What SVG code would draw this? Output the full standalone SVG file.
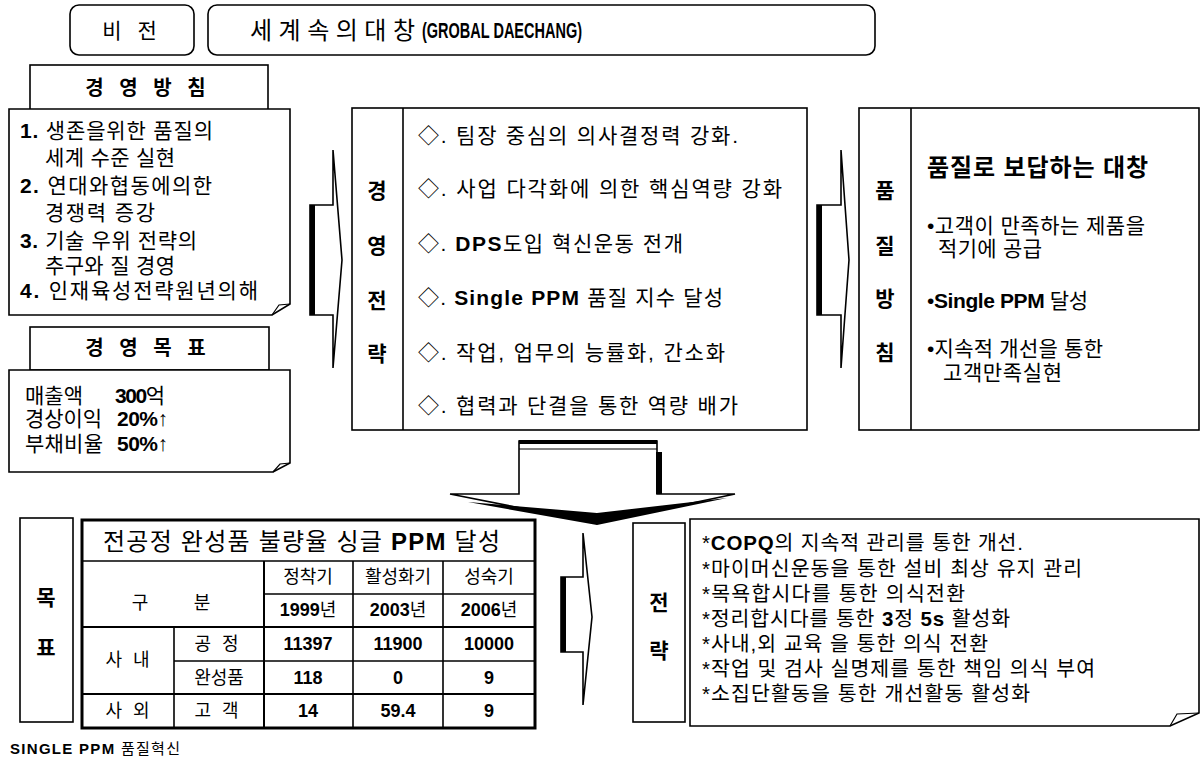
<svg xmlns="http://www.w3.org/2000/svg" width="1200" height="759" viewBox="0 0 1200 759">
<defs>
<style>
text{font-family:'Liberation Sans','Noto Sans CJK KR',sans-serif;fill:#000;dominant-baseline:central}
.box{fill:#fff;stroke:#000;stroke-width:1.6}
.ln{fill:none;stroke:#000;stroke-width:1.6}
.thin{fill:none;stroke:#000;stroke-width:1.2}
.b{font-weight:bold}
.lab{font-size:21px;font-weight:bold;text-anchor:middle}
.t19{font-size:21px}
.t20{font-size:21px}
.cell{font-size:18px;text-anchor:middle}
.bul{font-size:20.5px}
</style>
</defs>

<g id="vision">
<rect class="box" x="70" y="5" width="124" height="50" rx="9"/>
<text x="132" y="30" style="font-size:21px;letter-spacing:5px" text-anchor="middle">비 전</text>
</g>
<g id="title">
<rect class="box" x="208" y="5" width="667" height="50" rx="9"/>
<text x="250" y="30" style="font-size:24px" textLength="165">세 계 속 의 대 창</text>
<text x="422" y="30" class="b" style="font-size:22px" textLength="160" lengthAdjust="spacingAndGlyphs">(GROBAL DAECHANG)</text>
</g>

<g id="policy">
<rect class="box" x="30" y="65" width="238" height="45"/>
<text x="148" y="88" style="font-size:20px;font-weight:bold;letter-spacing:5px" text-anchor="middle">경 영 방 침</text>
<path class="box" d="M9,109 H290 V304 L272,315 H9 Z"/>
<path class="thin" d="M272,315 L279,305 L290,304"/>
<g class="t19">
<text x="20" y="130" textLength="193"><tspan class="b">1.</tspan> 생존을위한 품질의</text>
<text x="45" y="157" textLength="130">세계 수준 실현</text>
<text x="20" y="185" textLength="192"><tspan class="b">2.</tspan>  연대와협동에의한</text>
<text x="45" y="212" textLength="110">경쟁력 증강</text>
<text x="20" y="240" textLength="177"><tspan class="b">3.</tspan> 기술 우위 전략의</text>
<text x="45" y="265" textLength="130">추구와 질 경영</text>
<text x="20" y="290" textLength="238"><tspan class="b">4.</tspan>  인재육성전략원년의해</text>
</g>
</g>

<g id="goal">
<rect class="box" x="30" y="327" width="239" height="43"/>
<text x="148" y="348" style="font-size:20px;font-weight:bold;letter-spacing:5px" text-anchor="middle">경 영 목 표</text>
<path class="box" d="M9,370 H290 V463 L273,472 H9 Z"/>
<path class="thin" d="M273,472 L280,464 L290,463"/>
<g class="t19">
<text x="25" y="395" textLength="58">매출액</text><text x="115" y="395" class="b" textLength="50">300<tspan font-weight="normal">억</tspan></text>
<text x="25" y="418" textLength="77">경상이익</text><text x="117" y="418" class="b" textLength="51">20%↑</text>
<text x="25" y="443" textLength="78">부채비율</text><text x="117" y="443" class="b" textLength="51">50%↑</text>
</g>
</g>

<g id="connectors">
<path class="box" d="M310,205 H333 V150 L342,260 L333,368 V315 H310 Z"/>
<rect x="310" y="205" width="5" height="110" fill="#000"/>
<path class="box" d="M817,205 H841 V150 L849,260 L841,368 V315 H817 Z"/>
<rect x="817" y="205" width="5" height="110" fill="#000"/>
<path class="box" d="M561,577 H583 V533 L592,617 L583,705 V652 H561 Z"/>
<rect x="561" y="577" width="5" height="75" fill="#000"/>
<path class="box" d="M519,441 H657 V494 H735 L597,523 L450,494 H519 Z"/>
<rect x="519" y="440" width="138" height="4" fill="#000"/>
<line x1="519" y1="449" x2="657" y2="449" stroke="#000" stroke-width="1"/>
<rect x="656" y="452" width="6" height="42" fill="#000"/>
<polygon points="468,502 597,513 727,498 597,525" fill="#000"/>
</g>

<g id="mgmt-strategy">
<rect class="box" x="352" y="108" width="455" height="322"/>
<line class="ln" x1="403" y1="108" x2="403" y2="430"/>
<text class="lab" x="377" y="190">경</text>
<text class="lab" x="377" y="245">영</text>
<text class="lab" x="377" y="300">전</text>
<text class="lab" x="377" y="353">략</text>
<g class="t20">
<text x="418" y="135" textLength="320">◇. 팀장 중심의 의사결정력 강화.</text>
<text x="418" y="188" textLength="364">◇. 사업 다각화에 의한 핵심역량 강화</text>
<text x="418" y="243" textLength="265">◇. <tspan class="b">DPS</tspan>도입 혁신운동 전개</text>
<text x="418" y="297" textLength="305">◇. <tspan class="b">Single PPM</tspan> 품질 지수 달성</text>
<text x="418" y="352" textLength="307">◇. 작업, 업무의 능률화, 간소화</text>
<text x="418" y="405" textLength="320">◇. 협력과 단결을 통한 역량 배가</text>
</g>
</g>

<g id="quality-policy">
<rect class="box" x="859" y="108" width="340" height="322"/>
<line class="ln" x1="911" y1="108" x2="911" y2="430"/>
<text class="lab" x="885" y="190">품</text>
<text class="lab" x="885" y="245">질</text>
<text class="lab" x="885" y="298">방</text>
<text class="lab" x="885" y="352">침</text>
<text x="927" y="167" style="font-size:24px;font-weight:bold" textLength="221">품질로 보답하는 대창</text>
<g class="t20">
<text x="927" y="225" textLength="218">•고객이 만족하는 제품을</text>
<text x="938" y="248" textLength="104">적기에 공급</text>
<text x="927" y="300" textLength="161">•<tspan class="b">Single PPM</tspan> 달성</text>
<text x="927" y="348" textLength="176">•지속적 개선을 통한</text>
<text x="943" y="372" textLength="119">고객만족실현</text>
</g>
</g>

<g id="target">
<rect class="box" x="20" y="518" width="53" height="204"/>
<text class="lab" x="46" y="597">목</text>
<text class="lab" x="46" y="647">표</text>
</g>

<g id="table">
<rect x="82" y="520" width="453" height="208" fill="#fff" stroke="#000" stroke-width="3"/>
<line class="ln" x1="82" y1="561" x2="535" y2="561"/>
<line class="ln" x1="264" y1="594" x2="535" y2="594"/>
<line x1="82" y1="627" x2="535" y2="627" stroke="#000" stroke-width="2.2"/>
<line class="ln" x1="174" y1="661" x2="535" y2="661"/>
<line x1="82" y1="694" x2="535" y2="694" stroke="#000" stroke-width="2.2"/>
<line class="ln" x1="174" y1="627" x2="174" y2="728"/>
<line x1="264" y1="561" x2="264" y2="728" stroke="#000" stroke-width="2"/>
<line class="ln" x1="353" y1="561" x2="353" y2="728"/>
<line class="ln" x1="443" y1="561" x2="443" y2="728"/>
<text x="103" y="541" style="font-size:24px" textLength="397">전공정 완성품 불량율 싱글 <tspan class="b">PPM</tspan> 달성</text>
<text class="cell" x="140" y="603">구</text>
<text class="cell" x="202" y="603">분</text>
<text class="cell" x="308" y="577">정착기</text>
<text class="cell" x="398" y="577">활성화기</text>
<text class="cell" x="489" y="577">성숙기</text>
<text class="cell b" x="308" y="610">1999<tspan font-weight="normal">년</tspan></text>
<text class="cell b" x="398" y="610">2003<tspan font-weight="normal">년</tspan></text>
<text class="cell b" x="489" y="610">2006<tspan font-weight="normal">년</tspan></text>
<text class="cell" x="129" y="660" style="letter-spacing:3px">사 내</text>
<text class="cell" x="218" y="644" style="letter-spacing:3px">공 정</text>
<text class="cell" x="219" y="678">완성품</text>
<text class="cell" x="129" y="711" style="letter-spacing:3px">사 외</text>
<text class="cell" x="218" y="711" style="letter-spacing:3px">고 객</text>
<text class="cell b" x="308" y="644">11397</text>
<text class="cell b" x="398" y="644">11900</text>
<text class="cell b" x="489" y="644">10000</text>
<text class="cell b" x="308" y="678">118</text>
<text class="cell b" x="398" y="678">0</text>
<text class="cell b" x="489" y="678">9</text>
<text class="cell b" x="308" y="711">14</text>
<text class="cell b" x="398" y="711">59.4</text>
<text class="cell b" x="489" y="711">9</text>
</g>

<g id="strategy-label">
<rect class="box" x="633" y="523" width="52" height="199"/>
<text class="lab" x="659" y="602">전</text>
<text class="lab" x="659" y="650">략</text>
</g>

<g id="strategy">
<path class="box" d="M690,519 H1199 V713 L1170,726 H690 Z"/>
<path class="thin" d="M1170,726 L1177,714 L1199,713"/>
<g class="bul">
<text x="702" y="542" textLength="321">*<tspan class="b">COPQ</tspan>의 지속적 관리를 통한 개선.</text>
<text x="702" y="568" textLength="380">*마이머신운동을 통한 설비 최상 유지 관리</text>
<text x="702" y="593" textLength="263">*목욕합시다를 통한 의식전환</text>
<text x="702" y="618" textLength="308">*정리합시다를 통한 <tspan class="b">3</tspan>정 <tspan class="b">5s</tspan> 활성화</text>
<text x="702" y="643" textLength="286">*사내,외 교육 을 통한 의식 전환</text>
<text x="702" y="668" textLength="393">*작업 및 검사 실명제를 통한 책임 의식 부여</text>
<text x="702" y="693" textLength="328">*소집단활동을 통한 개선활동 활성화</text>
</g>
</g>

<text x="10" y="748" style="font-size:15px;font-weight:bold" textLength="170">SINGLE PPM <tspan font-weight="normal">품질혁신</tspan></text>
</svg>
